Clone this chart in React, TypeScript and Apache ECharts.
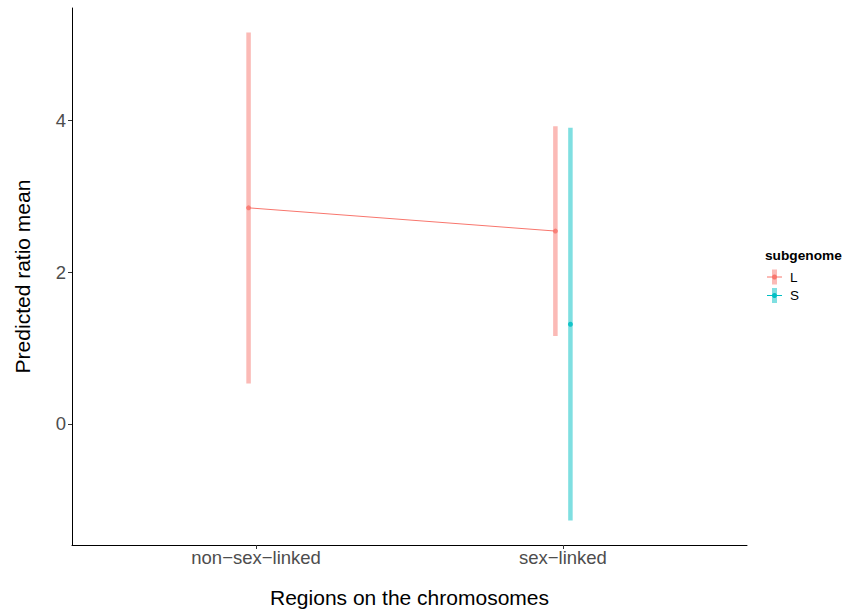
import React, { useEffect, useRef } from "react";
import * as echarts from "echarts";

const categories = ["non\u2212sex\u2212linked", "sex\u2212linked"];
const subgenomes = ["L", "S"];
const colors = ["#F8766D", "#00BFC4"];
const barColors = ["rgba(248,118,109,0.5)", "rgba(0,191,196,0.5)"];
// per subgenome, per category (null = absent)
const meanL = [2.846, 2.54];
const lowL = [0.53, 1.158];
const highL = [5.158, 3.92];
const meanS = [null, 1.312];
const lowS = [null, -1.276];
const highS = [null, 3.9];
const yTicks = [0, 2, 4];
const dodge = [-0.0245, 0.0245];

const FONT = "Liberation Sans, Arial, sans-serif";

export default function App() {
  const ref = useRef<HTMLDivElement>(null);
  useEffect(() => {
    if (!ref.current) return;
    const chart = echarts.init(ref.current, null, { renderer: "svg" });
    const groups = [
      { mean: meanL, low: lowL, high: highL },
      { mean: meanS, low: lowS, high: highS },
    ];
    const series: any[] = [];
    groups.forEach((g, gi) => {
      const errData: any[] = [];
      const ptData: any[] = [];
      categories.forEach((_, ci) => {
        if (g.mean[ci] == null) return;
        const x = ci + 1 + dodge[gi];
        errData.push([x, g.low[ci], g.high[ci]]);
        ptData.push([x, g.mean[ci]]);
      });
      series.push({
        type: "custom",
        name: subgenomes[gi] + "-err",
        data: errData,
        z: 1,
        renderItem: (params: any, api: any) => {
          const x = api.value(0);
          const p1 = api.coord([x, api.value(1)]);
          const p2 = api.coord([x, api.value(2)]);
          return {
            type: "line",
            shape: { x1: p1[0], y1: p1[1], x2: p2[0], y2: p2[1] },
            style: { stroke: barColors[gi], lineWidth: 4.5 },
          };
        },
      });
      if (ptData.length > 1) {
        series.push({
          type: "line",
          data: ptData,
          showSymbol: false,
          symbol: "none",
          z: 2,
          lineStyle: { color: colors[gi], width: 1 },
        });
      }
      series.push({
        type: "scatter",
        data: ptData,
        symbolSize: 5,
        z: 3,
        itemStyle: { color: colors[gi], opacity: 0.85 },
      });
    });

    const legendItems: any[] = [];
    subgenomes.forEach((s, i) => {
      const cy = 277 + i * 18.5;
      legendItems.push(
        { type: "rect", shape: { x: 772, y: cy - 7.5, width: 5, height: 15 }, style: { fill: barColors[i] } },
        { type: "line", shape: { x1: 767, y1: cy, x2: 782, y2: cy }, style: { stroke: colors[i], lineWidth: 1 } },
        { type: "circle", shape: { cx: 774.5, cy, r: 2.5 }, style: { fill: colors[i] } },
        { type: "text", x: 790, y: cy, style: { text: s, font: `13.5px ${FONT}`, fill: "#000", verticalAlign: "middle" } }
      );
    });

    chart.setOption({
      animation: false,
      grid: { left: 72, right: 100, top: 8, bottom: 69 },
      xAxis: {
        type: "value",
        min: 0.4,
        max: 2.6,
        splitLine: { show: false },
        axisLine: { onZero: false, lineStyle: { color: "#000", width: 1 } },
        axisTick: { customValues: [1, 2], length: 4, lineStyle: { color: "#333" } },
        axisLabel: {
          customValues: [1, 2],
          formatter: (v: number) => categories[Math.round(v) - 1] ?? "",
          color: "#4D4D4D",
          fontSize: 18.5,
          fontFamily: FONT,
          margin: 3,
        },
        name: "Regions on the chromosomes",
        nameLocation: "middle",
        nameGap: 42,
        nameTextStyle: { color: "#000", fontSize: 21, fontFamily: FONT },
      },
      yAxis: {
        type: "value",
        min: -1.598,
        max: 5.48,
        splitLine: { show: false },
        axisLine: { show: true, onZero: false, lineStyle: { color: "#000", width: 1 } },
        axisTick: { show: true, customValues: yTicks, length: 4, lineStyle: { color: "#333" } },
        axisLabel: {
          customValues: yTicks,
          color: "#4D4D4D",
          fontSize: 18.5,
          fontFamily: FONT,
          margin: 6,
        },
        name: "Predicted ratio mean",
        nameLocation: "middle",
        nameGap: 39,
        nameTextStyle: { color: "#000", fontSize: 21, fontFamily: FONT },
      },
      series,
      graphic: [
        {
          type: "text",
          x: 765,
          y: 255,
          style: { text: "subgenome", font: `bold 13.7px ${FONT}`, fill: "#000", verticalAlign: "middle" },
        },
        ...legendItems,
      ],
    });
    return () => chart.dispose();
  }, []);
  return <div ref={ref} style={{ width: 847, height: 614, position: "absolute", left: 0, top: 0 }} />;
}
